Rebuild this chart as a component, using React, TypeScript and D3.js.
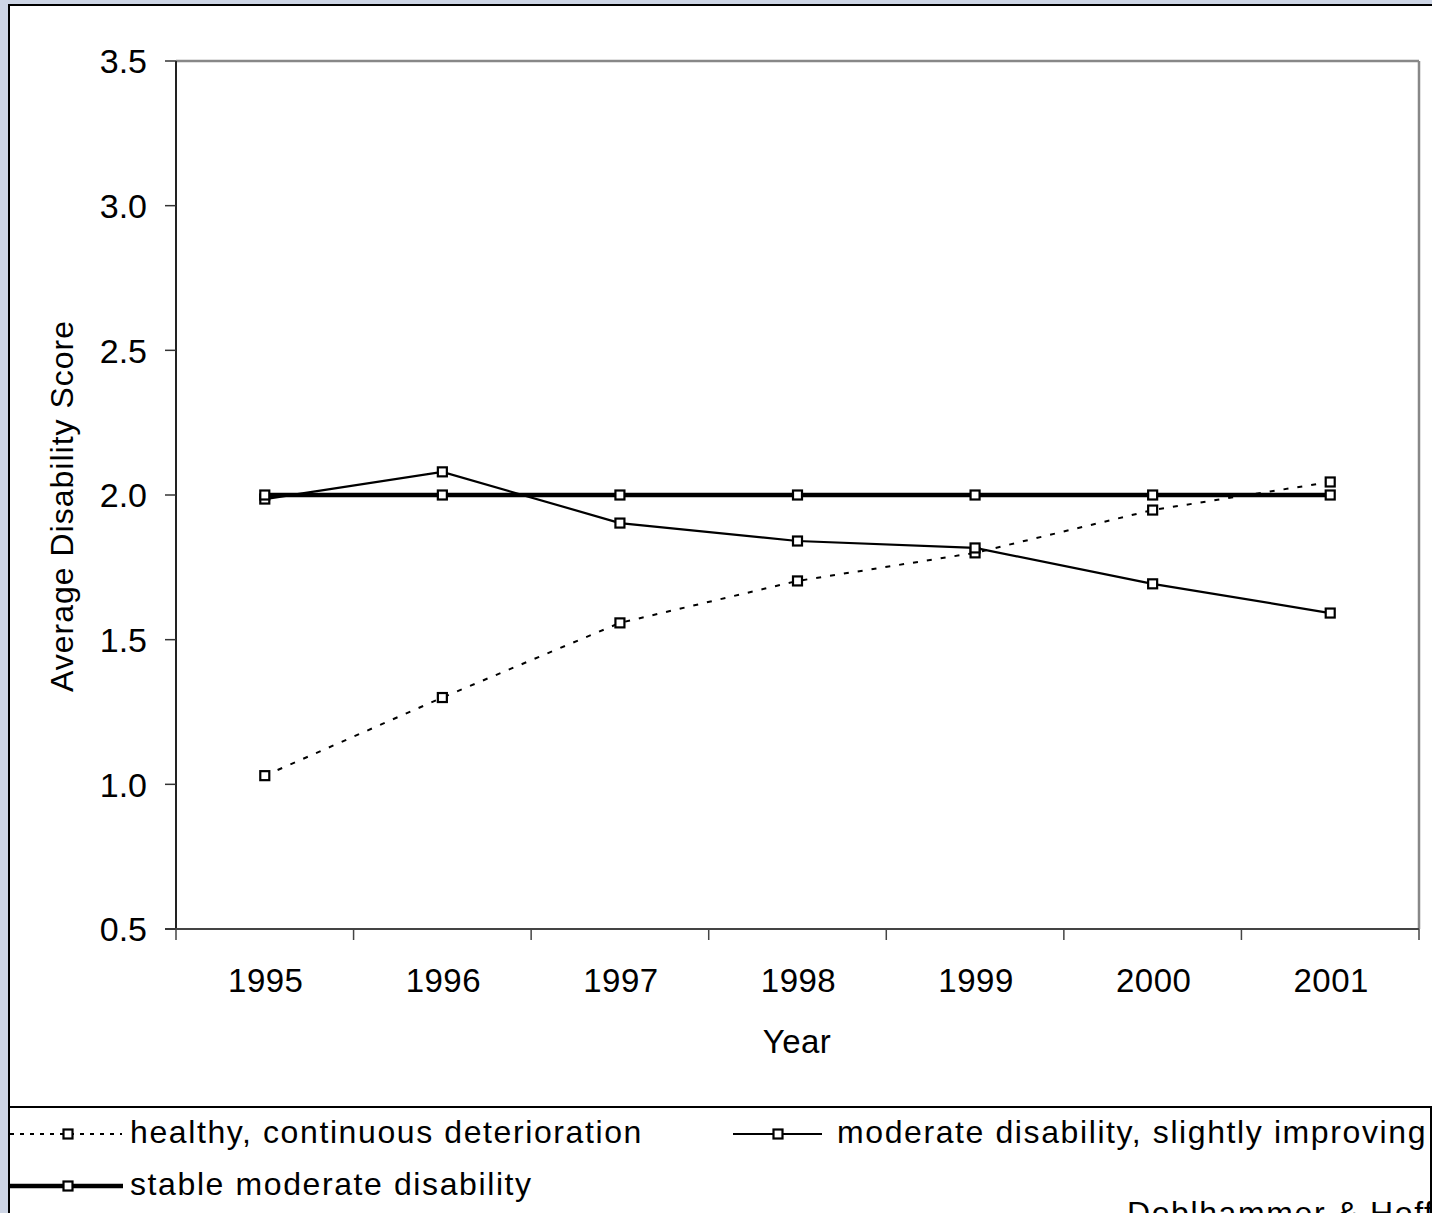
import React from "react";
import * as d3 from "d3";

const years = ["1995", "1996", "1997", "1998", "1999", "2000", "2001"];
const healthy = [1.03, 1.3, 1.558, 1.703, 1.8, 1.948, 2.045];
const moderate = [1.986, 2.08, 1.903, 1.841, 1.817, 1.693, 1.592];
const stable = [2.0, 2.0, 2.0, 2.0, 2.0, 2.0, 2.0];
const yTicks = [0.5, 1.0, 1.5, 2.0, 2.5, 3.0, 3.5];
const seriesNames = [
  "healthy, continuous deterioration",
  "moderate disability, slightly improving",
  "stable moderate disability",
];

const W = 1432;
const H = 1213;
const left = 176, right = 1419, top = 61, bottom = 929;
const FONT = "'Liberation Sans', Arial, sans-serif";

export default function App() {
  const x = d3.scaleBand<string>().domain(years).range([left, right]).paddingInner(0).paddingOuter(0);
  const y = d3.scaleLinear().domain([0.5, 3.5]).range([bottom, top]);
  const cx = (yr: string) => (x(yr) as number) + x.bandwidth() / 2;
  const line = d3
    .line<number>()
    .x((_, i) => cx(years[i]))
    .y((d) => y(d));

  const series = [
    { name: seriesNames[0], values: healthy, width: 2, dash: "5,9" },
    { name: seriesNames[1], values: moderate, width: 2.2, dash: undefined },
    { name: seriesNames[2], values: stable, width: 4.5, dash: undefined },
  ];

  const marker = (px: number, py: number, key: string) => (
    <rect key={key} x={px - 4.5} y={py - 4.5} width={9} height={9} fill="#fff" stroke="#000" strokeWidth={2.2} />
  );

  const boundaries = [...years.map((yr) => x(yr) as number), right];

  return (
    <svg width={W} height={H} style={{ position: "absolute", left: 0, top: 0 }} fontFamily={FONT}>
      <rect x={0} y={0} width={W} height={H} fill="#CDD5E5" />
      <rect x={9} y={5} width={W + 20} height={H + 20} fill="#fff" stroke="#000" strokeWidth={2} />

      {/* plot frame */}
      <line x1={left} y1={top} x2={right} y2={top} stroke="#888" strokeWidth={2.5} />
      <line x1={right} y1={top} x2={right} y2={bottom} stroke="#888" strokeWidth={2.5} />
      <line x1={left} y1={top} x2={left} y2={bottom} stroke="#222" strokeWidth={2} />
      <line x1={left - 11} y1={bottom} x2={right} y2={bottom} stroke="#444" strokeWidth={2} />

      {yTicks.map((t) => (
        <g key={"yt" + t}>
          <line x1={left - 11} x2={left} y1={y(t)} y2={y(t)} stroke="#333" strokeWidth={1.5} />
          <text x={147} y={y(t)} dy="0.36em" textAnchor="end" fontSize={34} fill="#000">
            {t.toFixed(1)}
          </text>
        </g>
      ))}
      {boundaries.map((b, i) => (
        <line key={"xt" + i} x1={b} x2={b} y1={bottom} y2={bottom + 11} stroke="#444" strokeWidth={1.5} />
      ))}
      {years.map((yr) => (
        <text key={"xl" + yr} x={cx(yr) + 1} y={992} textAnchor="middle" fontSize={33} fill="#000" letterSpacing={0.5}>
          {yr}
        </text>
      ))}
      <text x={797} y={1053} textAnchor="middle" fontSize={33} letterSpacing={0.5}>Year</text>
      <text
        transform={`translate(73,${506}) rotate(-90)`}
        textAnchor="middle"
        fontSize={32}
        letterSpacing={1}
      >
        Average Disability Score
      </text>

      {series.map((s, si) => (
        <g key={"s" + si}>
          <path d={line(s.values) || ""} fill="none" stroke="#000" strokeWidth={s.width} strokeDasharray={s.dash} />
          {s.values.map((v, i) => marker(cx(years[i]), y(v), "m" + si + i))}
        </g>
      ))}

      {/* legend */}
      <rect x={9} y={1107} width={1422} height={200} fill="none" stroke="#000" strokeWidth={2} />
      <g>
        <line x1={10} x2={122} y1={1134} y2={1134} stroke="#000" strokeWidth={2} strokeDasharray="4,6" />
        {marker(68, 1134, "lg0")}
        <text x={130} y={1143} fontSize={32} letterSpacing={1.6}>{seriesNames[0]}</text>
      </g>
      <g>
        <line x1={733} x2={822} y1={1134} y2={1134} stroke="#000" strokeWidth={2.2} />
        {marker(778, 1134, "lg1")}
        <text x={837} y={1143} fontSize={32} letterSpacing={1.6}>{seriesNames[1]}</text>
      </g>
      <g>
        <line x1={10} x2={123} y1={1186} y2={1186} stroke="#000" strokeWidth={4.5} />
        {marker(68, 1186, "lg2")}
        <text x={130} y={1195} fontSize={32} letterSpacing={1.6}>{seriesNames[2]}</text>
      </g>
      <text x={1127} y={1224} fontSize={32} letterSpacing={1.6}>Doblhammer &amp; Hoffmann</text>
    </svg>
  );
}
